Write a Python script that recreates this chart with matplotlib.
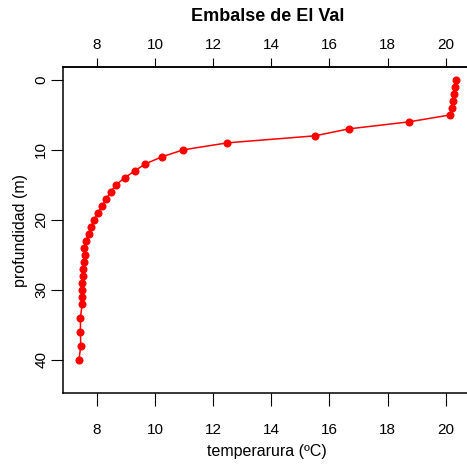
import matplotlib
matplotlib.use('Agg')
import matplotlib.pyplot as plt

plt.rcParams['font.family'] = ['Liberation Sans', 'DejaVu Sans']

# perfil de temperatura, Embalse de El Val
profundidad = [0, 1, 2, 3, 4, 5, 6, 7, 8, 9, 10, 11, 12, 13, 14, 15, 16, 17, 18, 19,
               20, 21, 22, 23, 24, 25, 26, 27, 28, 29, 30, 31, 32, 34, 36, 38, 40]
temperatura = [20.36, 20.30, 20.27, 20.23, 20.21, 20.16, 18.73, 16.67, 15.49, 12.49,
               10.97, 10.24, 9.67, 9.31, 8.96, 8.66, 8.48, 8.33, 8.19, 8.04,
               7.91, 7.81, 7.73, 7.62, 7.57, 7.59, 7.57, 7.53, 7.52, 7.50,
               7.50, 7.50, 7.50, 7.44, 7.44, 7.45, 7.39]
xticks = [8, 10, 12, 14, 16, 18, 20]
yticks = [0, 10, 20, 30, 40]

fig = plt.figure(figsize=(4.67, 4.68), dpi=100)
ax = fig.add_axes([0.1355, 0.1596, 0.874, 0.6966])

ax.plot(temperatura, profundidad, color='red', lw=1.1, marker='o', ms=5.8,
        markeredgewidth=0)

ax.set_xlim(6.85, 20.88)
ax.set_ylim(44.8, -1.8)

for s in ax.spines.values():
    s.set_linewidth(1.1)

ax.set_xticks(xticks)
ax.set_yticks(yticks)
ax.tick_params(axis='x', direction='out', length=9.1, width=0.8, pad=12, labelsize=11)
ax.tick_params(axis='y', direction='out', length=8.3, width=0.8, pad=2.5, labelsize=11,
               labelrotation=90)
for lab in ax.get_yticklabels():
    lab.set_va('center')

top = ax.secondary_xaxis('top')
top.set_xticks(xticks)
top.tick_params(direction='out', length=6.8, width=0.8, pad=4, labelsize=11)
top.spines['top'].set_linewidth(1.1)

ax.set_xlabel('temperarura (ºC)', fontsize=11.5, va='center')
ax.xaxis.set_label_coords(0.5, -0.177)
ax.set_ylabel('profundidad (m)', fontsize=11.5, va='center')
ax.yaxis.set_label_coords(-0.1036, 0.5)

ax.text(0.5, 1.156, 'Embalse de El Val', transform=ax.transAxes, ha='center',
        va='center', fontsize=13, fontweight='bold')

fig.savefig('out.png', dpi=100)
